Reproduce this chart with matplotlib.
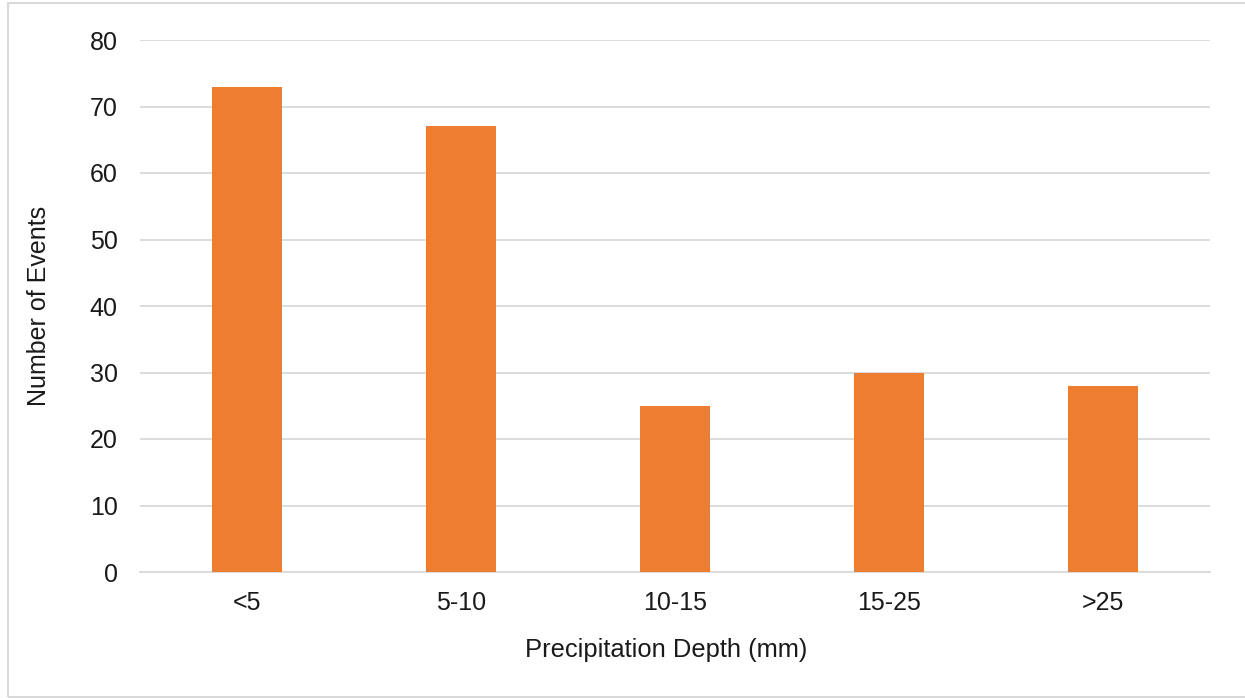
import matplotlib
matplotlib.use("Agg")
import matplotlib.pyplot as plt
from matplotlib.patches import Rectangle

# precipitation events by depth class
depth_classes = ["<5", "5-10", "10-15", "15-25", ">25"]
event_counts = [73, 67, 25, 30, 28]
y_ticks = [0, 10, 20, 30, 40, 50, 60, 70, 80]

plt.rcParams['font.family'] = ['Liberation Sans', 'DejaVu Sans']
text_color = "#1a1a1a"
grid_color = "#d9d9d9"
bar_color = "#ed7d31"
fs = 18

W, H = 1245, 698
fig = plt.figure(figsize=(W / 100, H / 100), dpi=100)
ax = fig.add_axes([140 / W, 1 - 572 / H, 1070 / W, 532 / H])

x = range(len(depth_classes))
ax.bar(x, event_counts, width=0.327, color=bar_color, zorder=3)

ax.set_xlim(-0.5, len(depth_classes) - 0.5)
ax.set_ylim(0, 80)
ax.set_yticks(y_ticks)
ax.set_xticks(list(x))
ax.set_xticklabels(depth_classes)
ax.yaxis.grid(True, color=grid_color, linewidth=1.3, zorder=0)
ax.tick_params(axis="both", length=0, labelsize=fs, colors=text_color)
ax.tick_params(axis="y", pad=16)
ax.tick_params(axis="x", pad=14)
for side in ["top", "right", "left"]:
    ax.spines[side].set_visible(False)
ax.spines["bottom"].set_color(grid_color)
ax.spines["bottom"].set_linewidth(1.3)

ax.set_xlabel("Precipitation Depth (mm)", fontsize=18.4, color=text_color, labelpad=16)
ax.xaxis.label.set_x(0.492)
ax.set_ylabel("Number of Events", fontsize=fs, color=text_color, labelpad=28)

# light frame around the chart area
fig.patches.append(Rectangle((8 / W, 1 / H), 1.1, 694 / H, transform=fig.transFigure,
                             fill=False, edgecolor="#d9d9d9", linewidth=1.5))

fig.savefig("out.png", dpi=100)
